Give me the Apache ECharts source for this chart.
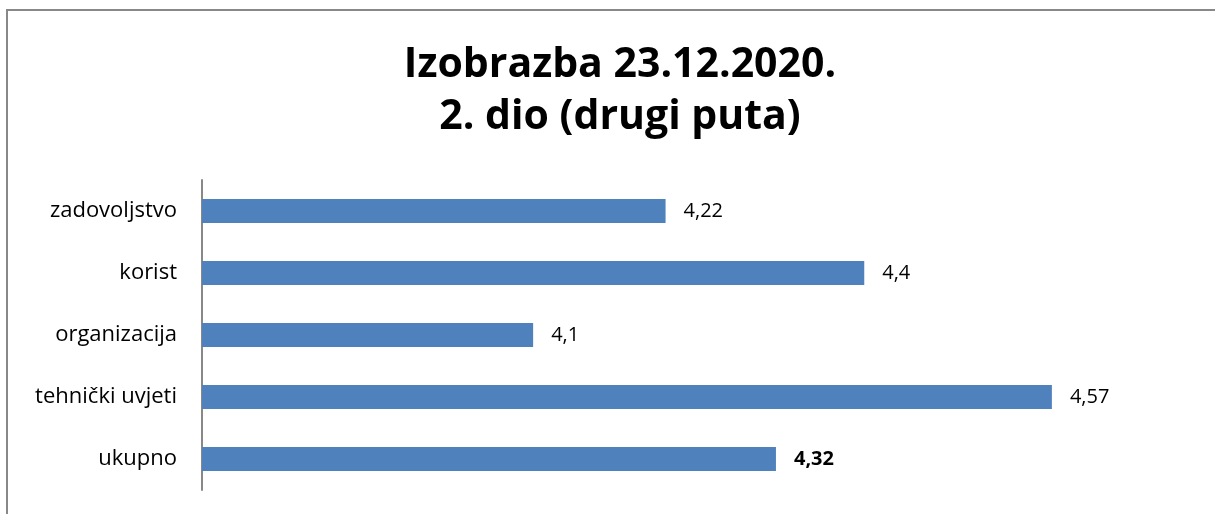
<!DOCTYPE html>
<html>
<head>
<meta charset="utf-8">
<script src="https://cdn.jsdelivr.net/npm/echarts@6/dist/echarts.min.js"></script>
<style>
html, body { margin: 0; padding: 0; background: #fff; }
#chart { width: 1215px; height: 514px; }
</style>
</head>
<body>
<div id="chart"></div>
<script>
var categories = ['zadovoljstvo', 'korist', 'organizacija', 'tehnički uvjeti', 'ukupno'];
var values = [4.22, 4.4, 4.1, 4.57, 4.32];

var myChart = echarts.init(document.getElementById('chart'));

var fmt = function (p) {
	var s = String(p.value).replace('.', ',');
	return p.dataIndex === values.length - 1 ? '{b|' + s + '}' : s;
};

option = {
	backgroundColor: '#fff',
	textStyle: { fontFamily: 'Open Sans' },
	title: {
		text: 'Izobrazba 23.12.2020.\n2. dio (drugi puta)',
		left: 615,
		textAlign: 'center',
		top: 34,
		textStyle: {
			fontFamily: 'Open Sans',
			fontSize: 41,
			fontWeight: 'bold',
			color: '#000',
			lineHeight: 52
		}
	},
	graphic: [ {
		type: 'rect',
		shape: { x: 7, y: 10, width: 1212, height: 520 },
		style: { fill: 'none', stroke: '#888', lineWidth: 2 },
		silent: true
	} ],
	grid: {
		left: 202,
		right: 130,
		top: 180,
		bottom: 24
	},
	xAxis: {
		type: 'value',
		min: 3.8,
		max: 4.6,
		show: false
	},
	yAxis: {
		type: 'category',
		inverse: true,
		data: categories,
		axisLine: { show: true, lineStyle: { color: '#888', width: 2 } },
		axisTick: { show: false },
		axisLabel: {
			fontSize: 22,
			color: '#000',
			margin: 25,
			fontFamily: 'Open Sans'
		}
	},
	series: [ {
		type: 'bar',
		data: values,
		barWidth: 24,
		itemStyle: { color: '#4f81bd' },
		label: {
			show: true,
			position: 'right',
			distance: 18,
			fontSize: 20,
			color: '#000',
			fontFamily: 'Open Sans',
			formatter: fmt,
			rich: { b: { fontWeight: 'bold', fontSize: 20, color: '#000', fontFamily: 'Open Sans' } }
		}
	} ]
};
myChart.setOption(option);
</script>
</body>
</html>
